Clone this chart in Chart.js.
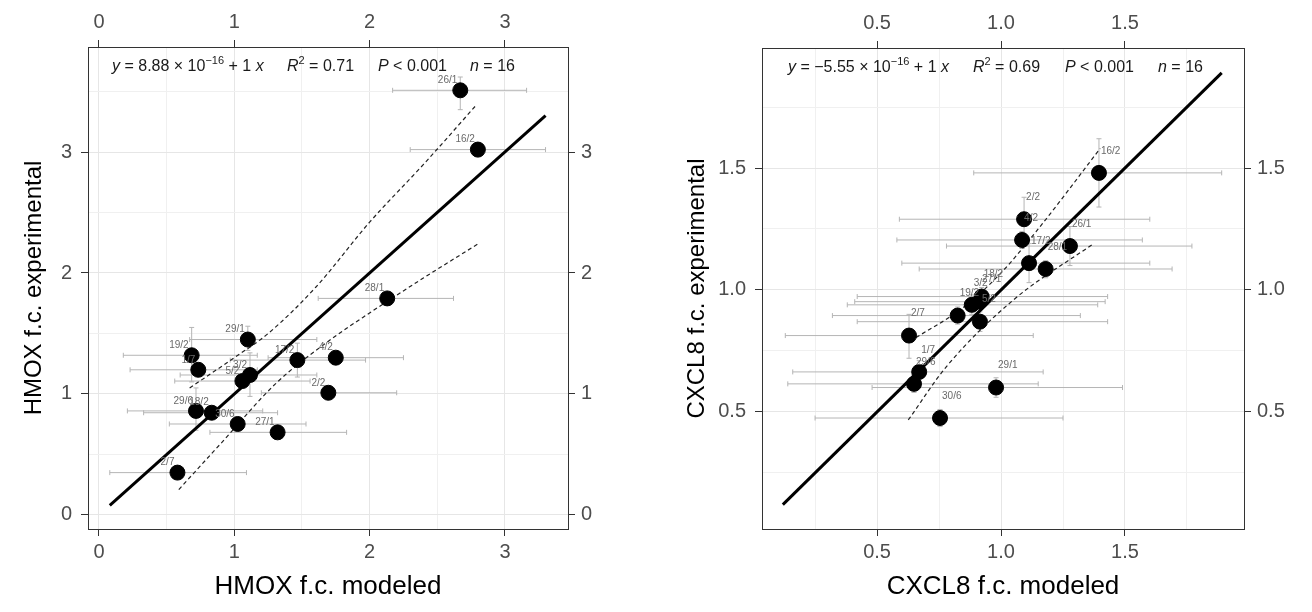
<!DOCTYPE html>
<html>
<head>
<meta charset="utf-8">
<script src="https://cdn.jsdelivr.net/npm/chart.js@4.4.1/dist/chart.umd.min.js"></script>
<style>
  html, body { margin: 0; padding: 0; background: #fff; }
  .panel { position: absolute; top: 0; width: 656px; height: 612px; }
  #left { left: 0; }
  #right { left: 656px; }
</style>
</head>
<body>
<div class="panel" id="left"><canvas id="hmox" width="656" height="612"></canvas></div>
<div class="panel" id="right"><canvas id="cxcl" width="656" height="612"></canvas></div>
<script>
const dates = ['26/1', '16/2', '28/1', '29/1', '19/2', '1/7', '17/2', '4/2', '3/2', '5/2', '2/2', '29/6', '18/2', '30/6', '27/1', '2/7'];

// HMOX panel
const hmoxModeled = [2.67, 2.80, 2.13, 1.10, 0.685, 0.734, 1.466, 1.75, 1.116, 1.06, 1.695, 0.717, 0.833, 1.025, 1.32, 0.58];
const hmoxExperimental = [3.51, 3.02, 1.79, 1.45, 1.32, 1.20, 1.28, 1.30, 1.157, 1.107, 1.01, 0.86, 0.845, 0.752, 0.683, 0.35];
const hmoxModLow = [2.17, 2.30, 1.62, 0.67, 0.18, 0.23, 0.97, 1.25, 0.60, 0.56, 1.20, 0.21, 0.33, 0.52, 0.82, 0.08];
const hmoxModHigh = [3.16, 3.30, 2.62, 1.61, 1.17, 1.17, 1.97, 2.25, 1.61, 1.56, 2.20, 1.21, 1.32, 1.53, 1.83, 1.09];
const hmoxExpLow = [3.35, 2.96, 1.74, 1.36, 1.10, 1.15, 1.14, 1.25, 0.98, 1.06, 0.96, 0.70, 0.80, 0.71, 0.64, 0.31];
const hmoxExpHigh = [3.62, 3.08, 1.84, 1.56, 1.55, 1.25, 1.42, 1.35, 1.34, 1.15, 1.06, 1.05, 0.89, 0.80, 0.73, 0.39];
const hmoxFitX = [0.08, 3.30];
const hmoxFitY = [0.08, 3.30];
const hmoxUpperX = [0.67, 1.0, 1.25, 1.6, 2.0, 2.4, 2.79];
const hmoxUpperY = [1.05, 1.30, 1.50, 1.88, 2.42, 2.90, 3.39];
const hmoxLowerX = [0.59, 0.9, 1.31, 1.7, 2.0, 2.4, 2.80];
const hmoxLowerY = [0.21, 0.59, 1.09, 1.44, 1.67, 1.96, 2.24];

// CXCL8 panel
const cxclModeled = [1.278, 1.395, 1.18, 0.98, 0.825, 0.67, 1.113, 1.085, 0.882, 0.915, 1.093, 0.649, 0.922, 0.754, 0.915, 0.629];
const cxclExperimental = [1.18, 1.48, 1.086, 0.60, 0.895, 0.664, 1.11, 1.205, 0.939, 0.87, 1.29, 0.615, 0.973, 0.475, 0.952, 0.813];
const cxclModLow = [0.78, 0.89, 0.67, 0.48, 0.32, 0.16, 0.60, 0.58, 0.38, 0.42, 0.59, 0.14, 0.42, 0.25, 0.41, 0.13];
const cxclModHigh = [1.77, 1.89, 1.69, 1.49, 1.32, 1.17, 1.60, 1.57, 1.39, 1.43, 1.60, 1.15, 1.43, 1.25, 1.42, 1.13];
const cxclExpLow = [1.10, 1.34, 1.05, 0.56, 0.86, 0.62, 1.03, 1.17, 0.90, 0.83, 1.20, 0.58, 0.94, 0.44, 0.92, 0.72];
const cxclExpHigh = [1.26, 1.62, 1.12, 0.64, 0.93, 0.71, 1.19, 1.24, 0.98, 0.91, 1.38, 0.65, 1.01, 0.51, 0.99, 0.90];
const cxclFitX = [0.12, 1.89];
const cxclFitY = [0.12, 1.89];
const cxclUpperX = [0.633, 0.85, 1.0, 1.15, 1.40];
const cxclUpperY = [0.79, 0.93, 1.07, 1.25, 1.58];
const cxclLowerX = [0.626, 0.78, 1.05, 1.373];
const cxclLowerY = [0.467, 0.686, 0.959, 1.19];

const FONT = '"Liberation Sans", Arial, Helvetica, sans-serif';
Chart.defaults.font.family = FONT;

function pts(xs, ys) {
    return xs.map((x, i) => ({ x: x, y: ys[i] }));
}

// error bars under the points, date labels over them, fit text on top
function extrasPlugin(cfg) {
    return {
        id: 'extras',
        beforeDatasetsDraw(chart) {
            const { ctx, chartArea } = chart;
            const xs = chart.scales.x, ys = chart.scales.y;
            ctx.save();
            ctx.beginPath();
            ctx.rect(chartArea.left, chartArea.top, chartArea.right - chartArea.left, chartArea.bottom - chartArea.top);
            ctx.clip();
            ctx.strokeStyle = '#b5b5b5';
            ctx.lineWidth = 1;
            const cap = 2.5;
            cfg.x.forEach((v, i) => {
                const px = xs.getPixelForValue(v), py = ys.getPixelForValue(cfg.y[i]);
                const x1 = xs.getPixelForValue(cfg.xLow[i]), x2 = xs.getPixelForValue(cfg.xHigh[i]);
                const y1 = ys.getPixelForValue(cfg.yLow[i]), y2 = ys.getPixelForValue(cfg.yHigh[i]);
                ctx.beginPath();
                ctx.moveTo(x1, py); ctx.lineTo(x2, py);
                ctx.moveTo(x1, py - cap); ctx.lineTo(x1, py + cap);
                ctx.moveTo(x2, py - cap); ctx.lineTo(x2, py + cap);
                ctx.moveTo(px, y1); ctx.lineTo(px, y2);
                ctx.moveTo(px - cap, y1); ctx.lineTo(px + cap, y1);
                ctx.moveTo(px - cap, y2); ctx.lineTo(px + cap, y2);
                ctx.stroke();
            });
            ctx.restore();
        },
        afterDatasetsDraw(chart) {
            const { ctx } = chart;
            const xs = chart.scales.x, ys = chart.scales.y;
            ctx.save();
            ctx.font = '10px ' + FONT;
            ctx.fillStyle = '#6a6a6a';
            ctx.textAlign = cfg.labelAlign;
            ctx.textBaseline = 'middle';
            cfg.x.forEach((v, i) => {
                const px = xs.getPixelForValue(v), py = ys.getPixelForValue(cfg.y[i]);
                ctx.fillText(dates[i], px + cfg.labelDx, py + cfg.labelDy);
            });
            ctx.restore();
        },
        afterDraw(chart) {
            const { ctx, chartArea } = chart;
            ctx.save();
            ctx.fillStyle = '#1a1a1a';
            ctx.textBaseline = 'alphabetic';
            ctx.textAlign = 'left';
            const base = chartArea.top + 24;
            cfg.annot.forEach(group => {
                let x = chartArea.left + group.at;
                group.runs.forEach(r => {
                    const size = r.sup ? 11 : 16;
                    ctx.font = (r.it ? 'italic ' : '') + size + 'px ' + FONT;
                    ctx.fillText(r.t, x, r.sup ? base - 7 : base);
                    x += ctx.measureText(r.t).width;
                });
            });
            ctx.restore();
        }
    };
}

// fit summary, one group of text runs per statistic
function annotation(intercept, r2, at) {
    return [
        { at: at[0], runs: [{ t: 'y', it: true }, { t: ' = ' + intercept + ' × 10' }, { t: '−16', sup: true }, { t: ' + 1 ' }, { t: 'x', it: true }] },
        { at: at[1], runs: [{ t: 'R', it: true }, { t: '2', sup: true }, { t: ' = ' + r2 }] },
        { at: at[2], runs: [{ t: 'P', it: true }, { t: ' < 0.001' }] },
        { at: at[3], runs: [{ t: 'n', it: true }, { t: ' = 16' }] }
    ];
}

function makeScales(o) {
    const isMajor = v => Math.abs(v / o.major - Math.round(v / o.major)) < 1e-6;
    const common = (min, max) => ({
        type: 'linear',
        min: min,
        max: max,
        border: { color: '#333333', width: 1 },
        ticks: {
            stepSize: o.step,
            includeBounds: false,
            autoSkip: false,
            color: '#4d4d4d',
            font: { size: 20 },
            callback: v => isMajor(v) ? o.fmt(v) : ''
        }
    });
    const grid = (onArea) => ({
        drawOnChartArea: onArea,
        color: c => isMajor(c.tick.value) ? '#e6e6e6' : '#f0f0f0',
        lineWidth: 1,
        tickLength: 7,
        tickColor: c => isMajor(c.tick.value) ? '#333333' : 'rgba(0,0,0,0)'
    });
    const x = common(o.xMin, o.xMax);
    x.position = 'bottom';
    x.grid = grid(true);
    x.ticks.padding = 4;
    x.title = { display: true, text: o.xTitle, color: '#000', font: { size: 26 }, padding: { top: 0, bottom: 10 } };
    x.afterFit = s => { s.height = o.bottom; };
    const x2 = common(o.xMin, o.xMax);
    x2.position = 'top';
    x2.grid = grid(false);
    x2.ticks.padding = 6;
    x2.afterFit = s => { s.height = o.top; };
    const y = common(o.yMin, o.yMax);
    y.position = 'left';
    y.grid = grid(true);
    y.ticks.padding = 9;
    y.title = { display: true, text: o.yTitle, color: '#000', font: { size: 24 }, padding: { top: o.yTitlePad, bottom: 0 } };
    y.afterFit = s => { s.width = o.left; };
    const y2 = common(o.yMin, o.yMax);
    y2.position = 'right';
    y2.grid = grid(false);
    y2.ticks.padding = 6;
    y2.afterFit = s => { s.width = o.right; };
    return { x: x, x2: x2, y: y, y2: y2 };
}

function makeChart(el, d, o, cfg) {
    return new Chart(el, {
        type: 'scatter',
        data: {
            datasets: [{
                data: pts(d.x, d.y),
                backgroundColor: '#000',
                borderColor: '#000',
                borderWidth: 1,
                pointRadius: 7.5
            }, {
                data: pts(d.fitX, d.fitY),
                showLine: true,
                borderColor: '#000',
                borderWidth: 3,
                pointRadius: 0
            }, {
                data: pts(d.upX, d.upY),
                showLine: true,
                borderColor: '#222',
                borderWidth: 1.2,
                borderDash: [4, 3],
                cubicInterpolationMode: 'monotone',
                pointRadius: 0
            }, {
                data: pts(d.loX, d.loY),
                showLine: true,
                borderColor: '#222',
                borderWidth: 1.2,
                borderDash: [4, 3],
                cubicInterpolationMode: 'monotone',
                pointRadius: 0
            }]
        },
        options: {
            responsive: false,
            animation: false,
            devicePixelRatio: 1,
            layout: { padding: 0 },
            scales: makeScales(o),
            plugins: {
                legend: { display: false },
                tooltip: { enabled: false }
            }
        },
        plugins: [extrasPlugin(cfg)]
    });
}

makeChart(document.getElementById('hmox'), {
    x: hmoxModeled, y: hmoxExperimental,
    fitX: hmoxFitX, fitY: hmoxFitY,
    upX: hmoxUpperX, upY: hmoxUpperY,
    loX: hmoxLowerX, loY: hmoxLowerY
}, {
    xMin: -0.081, xMax: 3.466, yMin: -0.116, yMax: 3.868,
    step: 0.5, major: 1, fmt: v => String(v),
    xTitle: 'HMOX f.c. modeled', yTitle: 'HMOX f.c. experimental',
    left: 88, right: 88, top: 47, bottom: 83, yTitlePad: 20
}, {
    x: hmoxModeled, y: hmoxExperimental,
    xLow: hmoxModLow, xHigh: hmoxModHigh, yLow: hmoxExpLow, yHigh: hmoxExpHigh,
    labelAlign: 'right', labelDx: -3, labelDy: -10,
    annot: annotation('8.88', '0.71', [24, 199, 290, 382])
});

makeChart(document.getElementById('cxcl'), {
    x: cxclModeled, y: cxclExperimental,
    fitX: cxclFitX, fitY: cxclFitY,
    upX: cxclUpperX, upY: cxclUpperY,
    loX: cxclLowerX, loY: cxclLowerY
}, {
    xMin: 0.036, xMax: 1.98, yMin: 0.02, yMax: 1.992,
    step: 0.25, major: 0.5, fmt: v => v.toFixed(1),
    xTitle: 'CXCL8 f.c. modeled', yTitle: 'CXCL8 f.c. experimental',
    left: 106, right: 68, top: 48, bottom: 83, yTitlePad: 27
}, {
    x: cxclModeled, y: cxclExperimental,
    xLow: cxclModLow, xHigh: cxclModHigh, yLow: cxclExpLow, yHigh: cxclExpHigh,
    labelAlign: 'left', labelDx: 2, labelDy: -22,
    annot: annotation('−5.55', '0.69', [26, 211, 303, 396])
});
</script>
</body>
</html>
